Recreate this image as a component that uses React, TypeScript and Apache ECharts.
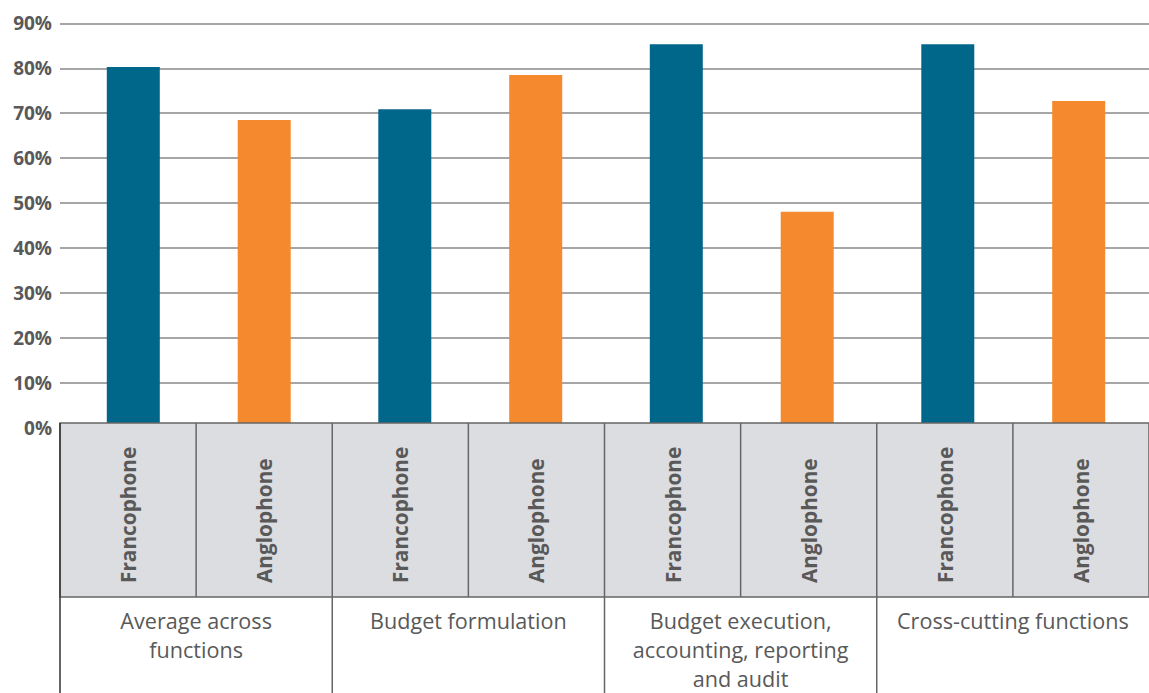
import React, { useEffect, useRef } from "react";
import * as echarts from "echarts";

const groups = [
  "Average across\nfunctions",
  "Budget formulation",
  "Budget execution,\naccounting, reporting\nand audit",
  "Cross-cutting functions",
];
const subLabels = [
  "Francophone", "Anglophone",
  "Francophone", "Anglophone",
  "Francophone", "Anglophone",
  "Francophone", "Anglophone",
];
const francophone = [80.4, 71.1, 85.4, 85.4];
const anglophone = [68.7, 78.6, 48.5, 72.9];
const yTicks = [0, 10, 20, 30, 40, 50, 60, 70, 80, 90];

const W = 1149;
const H = 693;
const LEFT = 60;
const TOP = 23.3;
const ZERO_Y = 432;
const TABLE_TOP = 423;
const ROW2_TOP = 597;
const BAR_SHIFT = 3;
const TEXT = "#595959";
const FONT = "'Open Sans', 'Noto Sans', sans-serif";

export default function App() {
  const ref = useRef<HTMLDivElement>(null);
  useEffect(() => {
    document.body.style.margin = "0";
    if (!ref.current) return;
    const chart = echarts.init(ref.current, undefined, { renderer: "svg" });
    const plotW = W - LEFT;
    const colW = plotW / subLabels.length;
    const graphics: any[] = [];
    graphics.push({
      type: "rect",
      z: 100,
      shape: { x: LEFT, y: TABLE_TOP, width: plotW, height: ROW2_TOP - TABLE_TOP },
      style: { fill: "#dcdde0", stroke: "#666", lineWidth: 1.5 },
    });
    for (let i = 1; i < subLabels.length; i++) {
      const x = LEFT + colW * i;
      graphics.push({
        type: "line",
        z: 101,
        shape: { x1: x, y1: TABLE_TOP, x2: x, y2: i % 2 === 0 ? H : ROW2_TOP },
        style: { stroke: "#666", lineWidth: 1.5 },
      });
    }
    graphics.push({
      type: "line",
      z: 101,
      shape: { x1: LEFT, y1: TABLE_TOP, x2: LEFT, y2: H },
      style: { stroke: "#333", lineWidth: 1.5 },
    });
    const yRange = { min: yTicks[0], max: yTicks[yTicks.length - 1], interval: 10 };
    chart.setOption({
      animation: false,
      grid: [
        { left: LEFT, right: 0, top: TOP, bottom: H - ZERO_Y, containLabel: false },
        { left: LEFT + BAR_SHIFT, right: -BAR_SHIFT, top: TOP, bottom: H - ZERO_Y, containLabel: false },
      ],
      xAxis: [
        {
          type: "category",
          gridIndex: 0,
          data: groups,
          position: "bottom",
          offset: 0,
          z: 200,
          axisLine: { show: false },
          axisTick: { show: false },
          axisLabel: {
            interval: 0,
            margin: 178,
            fontSize: 21.6,
            lineHeight: 29,
            color: TEXT,
            fontFamily: FONT,
          },
        },
        {
          type: "category",
          gridIndex: 0,
          data: subLabels,
          position: "bottom",
          offset: 0,
          z: 200,
          axisLine: { show: false },
          axisTick: { show: false },
          axisLabel: {
            interval: 0,
            rotate: 90,
            align: "left",
            verticalAlign: "middle",
            margin: 155,
            fontSize: 20.8,
            fontWeight: "bold",
            color: TEXT,
            fontFamily: FONT,
          },
        },
        {
          type: "category",
          gridIndex: 1,
          data: groups,
          show: false,
        },
      ],
      yAxis: [
        {
          type: "value",
          gridIndex: 0,
          ...yRange,
          axisLine: { show: false },
          axisTick: { show: false },
          splitLine: { lineStyle: { color: "#888", width: 1.5 } },
          axisLabel: {
            formatter: "{value}%",
            margin: 8,
            fontSize: 19,
            fontWeight: "bold",
            color: TEXT,
            fontFamily: FONT,
          },
        },
        {
          type: "value",
          gridIndex: 1,
          ...yRange,
          show: false,
          splitLine: { show: false },
        },
      ],
      series: [
        {
          name: "Francophone",
          type: "bar",
          xAxisIndex: 2,
          yAxisIndex: 1,
          data: francophone,
          barWidth: 53,
          barGap: "147%",
          itemStyle: { color: "#00668a" },
        },
        {
          name: "Anglophone",
          type: "bar",
          xAxisIndex: 2,
          yAxisIndex: 1,
          data: anglophone,
          barWidth: 53,
          barGap: "147%",
          itemStyle: { color: "#f5892d" },
        },
      ],
      graphic: graphics,
    });
    return () => chart.dispose();
  }, []);
  return <div ref={ref} style={{ width: W, height: H }} />;
}
